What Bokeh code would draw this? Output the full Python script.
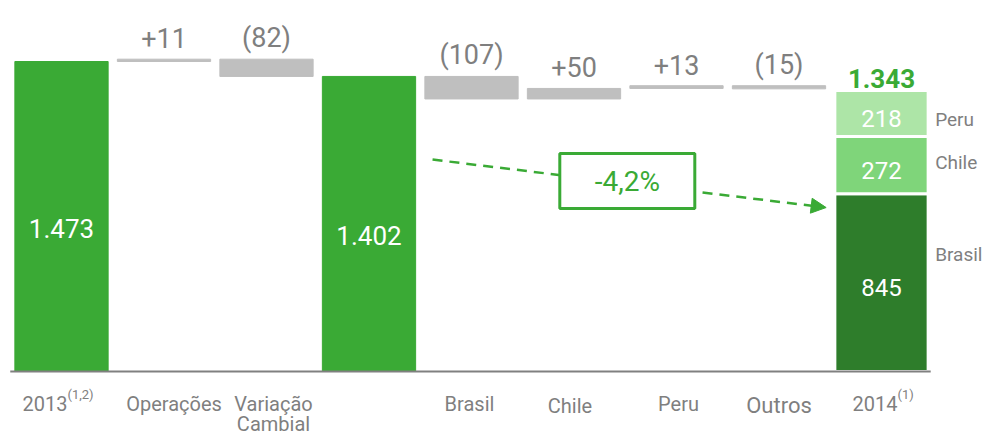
from bokeh.plotting import figure
from bokeh.models import Range1d, Arrow, NormalHead
from bokeh.core.properties import value
from bokeh.embed import file_html
from bokeh.resources import INLINE

# ---------------- data ----------------
categories = ["2013", "Operações", "Variação\nCambial", "", "Brasil", "Chile", "Peru", "Outros", "2014"]
cat_sup = ["(1,2)", "", "", "", "", "", "", "", "(1)"]
start_2013 = 1473
fx_deltas = [11, -82]                 # Operações, Variação Cambial
country_deltas = [-107, 50, 13, -15]  # Brasil, Chile, Peru, Outros
end_2014 = 1343
mix_names = ["Brasil", "Chile", "Peru"]
mix_values = [845, 272, 218]
change_label = "-4,2%"

# ---------------- style ----------------
FONT = value("Roboto")
GREEN = "#3aaa35"
MIX_COLORS = ["#2e7d2b", "#7fd57a", "#ade5a7"]
GRAY_BAR = "#bfbfbf"
GRAY_TXT = "#7f7f7f"
BAR_W = 0.91

def fmt_total(v):
    return f"{v:,}".replace(",", ".")

def fmt_delta(v):
    return f"+{v}" if v > 0 else f"({-v})"

# ---------------- waterfall computation ----------------
tot_x, tot_top, tot_lbl = [], [], []
d_x, d_top, d_bot, d_lbl = [], [], [], []

level = start_2013
tot_x.append(0); tot_top.append(level); tot_lbl.append(fmt_total(level))
i = 1
for d in fx_deltas:
    d_x.append(i); d_bot.append(min(level, level + d)); d_top.append(max(level, level + d))
    d_lbl.append(fmt_delta(d)); level += d; i += 1
tot_x.append(i); tot_top.append(level); tot_lbl.append(fmt_total(level)); i += 1
for d in country_deltas:
    d_x.append(i); d_bot.append(min(level, level + d)); d_top.append(max(level, level + d))
    d_lbl.append(fmt_delta(d)); level += d; i += 1
last_x = i

# ---------------- figure ----------------
W, H = 983, 434
px_per_cat = 102.5          # category spacing in px; first centre at 61px
xmin = -61 / px_per_cat
xmax = xmin + W / px_per_cat
px_per_unit = 310 / 1473    # value 0 at y=371px
ymax = 371 / px_per_unit
ymin = ymax - H / px_per_unit

p = figure(width=W, height=H, x_range=Range1d(xmin, xmax), y_range=Range1d(ymin, ymax),
           output_backend="svg", toolbar_location=None, min_border=0,
           x_axis_location=None, y_axis_location=None, outline_line_color=None)
p.xgrid.visible = False
p.ygrid.visible = False

# totals (green)
p.vbar(x=tot_x, top=tot_top, bottom=0, width=BAR_W, color=GREEN)
# deltas (gray)
p.vbar(x=d_x, top=d_top, bottom=d_bot, width=BAR_W, color=GRAY_BAR)

# 2014 stacked
bots, tops = [], []
acc = 0
for v in mix_values:
    bots.append(acc); acc += v; tops.append(acc)
mids = [(a + b) / 2 for a, b in zip(bots, tops)]
p.vbar(x=[last_x] * len(mix_values), top=tops, bottom=bots, width=BAR_W,
       fill_color=MIX_COLORS, line_color="white", line_width=3)

# baseline
p.segment(x0=[-0.5], x1=[last_x + 0.48], y0=[0], y1=[0], line_color="#808080", line_width=2)

# labels inside total bars
p.text(x=tot_x, y=[t / 2 for t in tot_top], text=tot_lbl, text_color="white",
       text_font=FONT, text_font_size="26px", text_align="center", text_baseline="middle", y_offset=12)
# delta labels
p.text(x=d_x, y=d_top, text=d_lbl, text_color=GRAY_TXT, text_font=FONT,
       text_font_size="27px", text_align="center", text_baseline="alphabetic", y_offset=-21)
# 2014 total
p.text(x=[last_x], y=[acc], text=[fmt_total(end_2014)], text_color=GREEN, text_font=FONT,
       text_font_style="bold", text_font_size="26px", text_align="center",
       text_baseline="alphabetic", y_offset=-12)
# stack values
p.text(x=[last_x] * 3, y=mids, text=[str(v) for v in mix_values],
       text_color="white", text_font=FONT, text_font_size="24px", text_align="center",
       text_baseline="middle", y_offset=5)
# stack names on the right
name_dy = [-28, -3, 6]
p.text(x=[last_x + BAR_W / 2] * 3, y=mids, text=mix_names,
       text_color=GRAY_TXT, text_font=FONT, text_font_size="19px", text_align="left",
       text_baseline="middle", x_offset=7, y_offset=name_dy)

# category labels
lab_dx = [0, 10, 7, 0, -2, -4, 2, 0, 0]
lab_size = [20, 20, 20, 20, 20, 20, 20, 22, 20]
lab_base = [32, 32, 32, 32, 32, 34, 32, 34, 32]
lx, ly, lt, lsz, lxo, lyo, lal = [], [], [], [], [], [], []
for k, c in enumerate(categories):
    if not c:
        continue
    for j, line in enumerate(c.split("\n")):
        lx.append(k); ly.append(0); lt.append(line); lsz.append(f"{lab_size[k]}px")
        if cat_sup[k]:
            lxo.append(6 if k == 0 else 16); lal.append("right")
        else:
            lxo.append(lab_dx[k]); lal.append("center")
        lyo.append(lab_base[k] + 20 * j)
p.text(x=lx, y=ly, text=lt, text_font_size=lsz, text_color=GRAY_TXT, text_font=FONT,
       text_align=lal, text_baseline="alphabetic", x_offset=lxo, y_offset=lyo)
sx = [k for k in range(len(categories)) if cat_sup[k]]
p.text(x=sx, y=[0] * len(sx), text=[cat_sup[k] for k in sx], text_font_size="13px",
       text_color=GRAY_TXT, text_font=FONT, text_align="left", text_baseline="alphabetic",
       x_offset=[6 if k == 0 else 16 for k in sx], y_offset=23)

# change arrow
ax0, ay0, ax1, ay1 = 3.62, 1007, 7.46, 779
p.segment(x0=[ax0], y0=[ay0], x1=[ax1 - 0.1], y1=[ay1 + 6], line_color=GREEN, line_width=2.5,
          line_dash="10 7")
p.add_layout(Arrow(end=NormalHead(size=15, fill_color=GREEN, line_color=GREEN),
                   x_start=ax1 - 0.2, y_start=ay1 + 12, x_end=ax1, y_end=ay1,
                   line_alpha=0))
bx, by = 5.52, 905
p.rect(x=[bx], y=[by], width=135, height=55, width_units="screen", height_units="screen",
       fill_color="white", line_color=GREEN, line_width=3)
p.text(x=[bx], y=[by], text=[change_label], text_color=GREEN, text_font=FONT,
       text_font_size="28px", text_align="center", text_baseline="middle")

open("out.html", "w").write(file_html(p, INLINE))
